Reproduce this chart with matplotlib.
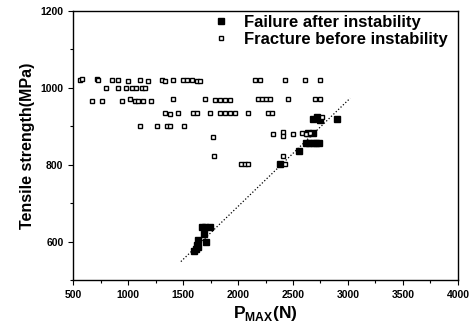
import numpy as np
import matplotlib
matplotlib.use('Agg')
import matplotlib.pyplot as plt
from matplotlib.ticker import MultipleLocator

plt.rcParams['font.family'] = ['Liberation Sans', 'DejaVu Sans']
plt.rcParams['font.weight'] = 'bold'
plt.rcParams['mathtext.fontset'] = 'custom'
plt.rcParams['mathtext.rm'] = 'Liberation Sans:bold'
plt.rcParams['mathtext.bf'] = 'Liberation Sans:bold'

# fracture before instability (open squares)
open_x = [564, 582, 718, 727, 855, 909, 1000, 1109, 1182, 1309, 1336, 1409, 1500, 1536, 1582, 1627, 1655,
          2155, 2200, 2427, 2609, 2745,
          800, 909, 982, 1036, 1073, 1127, 1155,
          673, 764, 945, 1018, 1064, 1091, 1136, 1209, 1409, 1700, 1791, 1836, 1882, 1927,
          2182, 2218, 2255, 2291, 2455, 2700, 2745,
          1336, 1382, 1455, 1591, 1627, 1745, 1836, 1882, 1927, 1973, 2091, 2273, 2309, 2760,
          1109, 1264, 1355, 1382, 1509,
          1773, 1780, 2030, 2060, 2090,
          2318, 2409, 2409, 2500, 2582, 2618, 2655, 2409, 2427]
open_y = [1020, 1022, 1022, 1020, 1021, 1021, 1019, 1021, 1019, 1021, 1019, 1020, 1020, 1020, 1020, 1019, 1017,
          1020, 1020, 1020, 1020, 1020,
          999, 999, 999, 999, 999, 999, 999,
          966, 966, 966, 972, 966, 966, 966, 966, 970, 970, 968, 968, 968, 968,
          970, 970, 970, 970, 972, 970, 970,
          935, 933, 935, 935, 935, 935, 935, 935, 935, 935, 935, 935, 935, 925,
          900, 900, 900, 900, 900,
          873, 822, 801, 801, 801,
          879, 884, 874, 879, 882, 879, 882, 822, 801]

# failure after instability (filled squares)
fill_x = [1600, 1615, 1625, 1640, 1636, 1691, 1709, 1673, 1700, 1745,
          2382, 2555, 2620, 2650, 2680, 2710, 2740, 2636, 2682,
          2680, 2720, 2750, 2900]
fill_y = [575, 582, 590, 585, 605, 621, 600, 637, 639, 637,
          801, 835, 856, 856, 856, 856, 856, 882, 882,
          920, 925, 915, 920]

# dotted guide line
line_x = [1480, 3020]
line_y = [548, 973]

fig = plt.figure(figsize=(4.75, 3.31), dpi=100)
ax = fig.add_axes([0.154, 0.154, 0.81, 0.813])

ax.plot(fill_x, fill_y, 's', color='black', ms=4.8, label='Failure after instability')
ax.plot(open_x, open_y, 's', mfc='white', mec='black', mew=1.0, ms=3.3, label='Fracture before instability')
ax.plot(line_x, line_y, color='black', ls=':', lw=0.9)

ax.set_xlim(500, 4000)
ax.set_ylim(500, 1200)
ax.xaxis.set_major_locator(MultipleLocator(500))
ax.xaxis.set_minor_locator(MultipleLocator(250))
ax.yaxis.set_major_locator(MultipleLocator(200))
ax.yaxis.set_minor_locator(MultipleLocator(100))
ax.tick_params(which='major', direction='out', length=3.5, width=0.8, labelsize=7.5)
ax.tick_params(which='minor', direction='out', length=2, width=0.8)
for lab in ax.get_xticklabels() + ax.get_yticklabels():
    lab.set_fontweight('bold')
for s in ax.spines.values():
    s.set_linewidth(1.0)

ax.set_xlabel(r'$\mathbf{P}_{\mathbf{MAX}}\mathbf{(N)}$', fontsize=12.5, labelpad=3)
ax.set_ylabel('Tensile strength(MPa)', fontsize=11.5, fontweight='bold', labelpad=4)

ax.legend(loc='upper right', bbox_to_anchor=(0.985, 1.0), frameon=False, fontsize=12,
          handletextpad=0.9, borderaxespad=0.0, borderpad=0.25, labelspacing=0.12,
          handlelength=1.0)

plt.savefig('out.png', dpi=100)
